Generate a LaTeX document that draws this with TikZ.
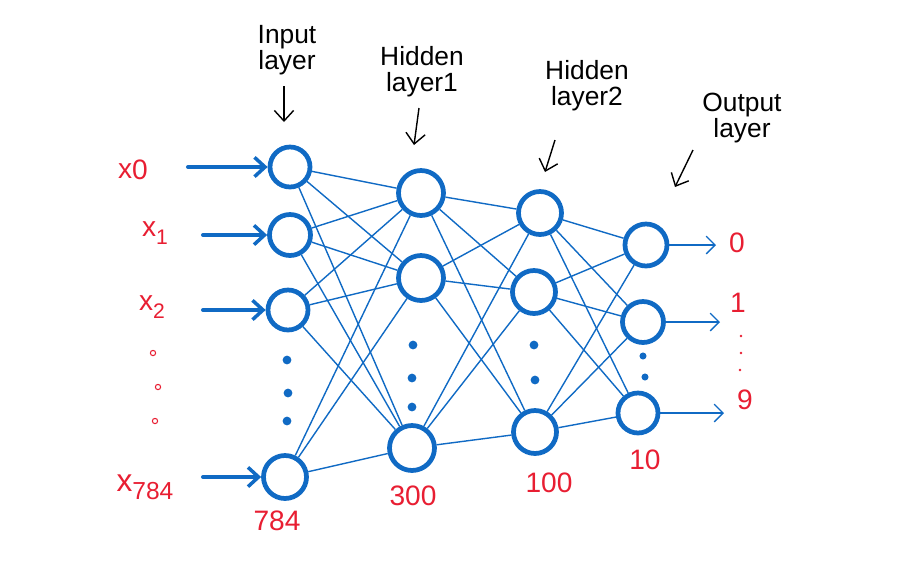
\documentclass[tikz,border=0pt]{standalone}
\usepackage{fontspec}
\setmainfont{Liberation Sans}
\usetikzlibrary{arrows.meta}
\definecolor{nnblue}{RGB}{16,106,196}
\definecolor{nnred}{RGB}{232,30,50}
\begin{document}
\begin{tikzpicture}[x=0.02cm,y=-0.02cm,
  neuron/.style={circle,draw=nnblue,line width=2.7pt,inner sep=0pt},
  link/.style={nnblue,line width=0.8pt},
  inarrow/.style={nnblue,line width=2.3pt,line cap=round,-{Straight Barb[length=6pt,width=11pt,line width=2pt]}},
  outarrow/.style={nnblue,line width=0.8pt,-{Straight Barb[length=5pt,width=10pt]}},
  hdr/.style={black,font=\fontsize{15}{15}\selectfont,align=center,inner sep=0pt},
  hdrarrow/.style={black,line width=0.8pt,-{Straight Barb[length=6pt,width=11pt]}},
  lab/.style={nnred,font=\fontsize{16}{16}\selectfont,inner sep=0pt},
  ndot/.style={circle,fill=nnblue,inner sep=0pt,minimum size=5pt},
  rdot/.style={circle,draw=nnred,line width=0.6pt,inner sep=0pt,minimum size=3pt}]
\useasboundingbox (0,0) rectangle (904,569);

% input layer
\node[neuron,minimum size=0.8cm] (i0) at (290,167) {};
\node[neuron,minimum size=0.82cm] (i1) at (290,235) {};
\node[neuron,minimum size=0.8cm] (i2) at (288,310) {};
\node[neuron,minimum size=0.86cm] (i3) at (285,477) {};
\node[ndot] (di1) at (287,360) {};
\node[ndot] (di2) at (288,393) {};
\node[ndot] (di3) at (287,421) {};

% hidden layer 1
\node[neuron,minimum size=0.9cm] (a0) at (421,193) {};
\node[neuron,minimum size=0.9cm] (a1) at (421,278) {};
\node[neuron,minimum size=0.9cm] (a2) at (412,448) {};
\node[ndot] (da1) at (413,345) {};
\node[ndot] (da2) at (412,378) {};
\node[ndot] (da3) at (412,407) {};

% hidden layer 2
\node[neuron,minimum size=0.86cm] (b0) at (540,213) {};
\node[neuron,minimum size=0.86cm] (b1) at (534,292) {};
\node[neuron,minimum size=0.86cm] (b2) at (535,432) {};
\node[ndot] (db1) at (534,345) {};
\node[ndot] (db2) at (535,380) {};

% output layer
\node[neuron,minimum size=0.84cm] (c0) at (646,245) {};
\node[neuron,minimum size=0.82cm] (c1) at (643,322) {};
\node[neuron,minimum size=0.8cm] (c2) at (638,413) {};
\node[ndot,minimum size=4pt] (dc1) at (643,356) {};
\node[ndot,minimum size=4pt] (dc2) at (645,377) {};

% connections
\foreach \s in {i0,i1,i2,i3}{\foreach \t in {a0,a1,a2}{\draw[link] (\s) -- (\t);}}
\foreach \s in {a0,a1,a2}{\foreach \t in {b0,b1,b2}{\draw[link] (\s) -- (\t);}}
\foreach \s in {b0,b1,b2}{\foreach \t in {c0,c1,c2}{\draw[link] (\s) -- (\t);}}

% input arrows
\coordinate (s0) at (188,167);
\coordinate (s1) at (203,235);
\coordinate (s2) at (203,310);
\coordinate (s3) at (203,477);
\draw[inarrow] (s0) -- (i0);
\draw[inarrow] (s1) -- (i1);
\draw[inarrow] (s2) -- (i2);
\draw[inarrow] (s3) -- (i3);

% output arrows
\coordinate (e0) at (716,245);
\coordinate (e1) at (720,322);
\coordinate (e2) at (724,413);
\draw[outarrow] (c0) -- (e0);
\draw[outarrow] (c1) -- (e1);
\draw[outarrow] (c2) -- (e2);

% input labels
\node[lab] (x0) at (133,170) {x\raisebox{-0.1ex}{0}};
\node[lab] (x1) at (155,233) {x\raisebox{-0.5ex}{\fontsize{12}{12}\selectfont 1}};
\node[lab] (x2) at (152,307) {x\raisebox{-0.5ex}{\fontsize{12}{12}\selectfont 2}};
\node[rdot] (r1) at (153,353) {};
\node[rdot] (r2) at (158,387) {};
\node[rdot] (r3) at (155,421) {};
\node[lab,font=\fontsize{18}{18}\selectfont] (x3) at (145,487) {x\raisebox{-0.5ex}{\fontsize{14}{14}\selectfont 784}};

% sizes
\node[lab] (n0) at (277,521) {784};
\node[lab] (n1) at (413,496) {300};
\node[lab] (n2) at (549,483) {100};
\node[lab] (n3) at (645,460) {10};

% output labels
\node[lab] (o0) at (737,243) {0};
\node[lab] (o1) at (738,303) {1};
\node[circle,fill=nnred,inner sep=0pt,minimum size=1.5pt] (q1) at (741,336) {};
\node[circle,fill=nnred,inner sep=0pt,minimum size=1.5pt] (q2) at (741,353) {};
\node[circle,fill=nnred,inner sep=0pt,minimum size=1.5pt] (q3) at (740,370) {};
\node[lab] (o2) at (745,400) {9};

% headers
\node[hdr] (h0) at (287,50) {Input\\layer};
\node[hdr] (h1) at (422,72) {Hidden\\layer1};
\node[hdr] (h2) at (587,86) {Hidden\\layer2};
\node[hdr] (h3) at (742,118) {Output\\layer};
\coordinate (t0) at (284,122);
\coordinate (t1) at (414,145);
\coordinate (t2) at (545,172);
\coordinate (t3) at (675,187);
\draw[hdrarrow] (284,86) -- (t0);
\draw[hdrarrow] (419,108) -- (t1);
\draw[hdrarrow] (555,140) -- (t2);
\draw[hdrarrow] (693,150) -- (t3);
\end{tikzpicture}
\end{document}
